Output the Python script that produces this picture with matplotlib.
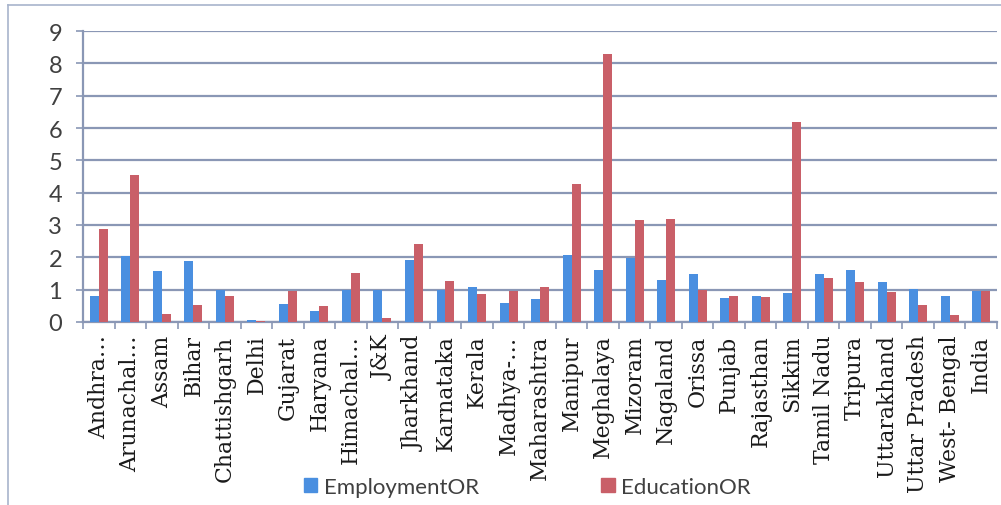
import numpy as np
import matplotlib
matplotlib.use('Agg')
from matplotlib import pyplot as plt
from matplotlib.lines import Line2D
from matplotlib.patches import Patch

states = ['Andhra\u2026', 'Arunachal\u2026', 'Assam', 'Bihar', 'Chattishgarh', 'Delhi',
          'Gujarat', 'Haryana', 'Himachal\u2026', 'J&K', 'Jharkhand', 'Karnataka',
          'Kerala', 'Madhya-\u2026', 'Maharashtra', 'Manipur', 'Meghalaya', 'Mizoram',
          'Nagaland', 'Orissa', 'Punjab', 'Rajasthan', 'Sikkim', 'Tamil Nadu',
          'Tripura', 'Uttarakhand', 'Uttar Pradesh', 'West- Bengal', 'India']
employment_or = [0.81, 2.03, 1.59, 1.89, 0.99, 0.07, 0.57, 0.34, 1.00, 0.98,
                 1.93, 1.00, 1.09, 0.58, 0.71, 2.08, 1.60, 1.97, 1.31, 1.48,
                 0.73, 0.80, 0.89, 1.47, 1.62, 1.23, 1.02, 0.81, 0.96]
education_or = [2.88, 4.55, 0.26, 0.53, 0.80, 0.04, 0.97, 0.50, 1.52, 0.12,
                2.42, 1.28, 0.86, 0.96, 1.09, 4.26, 8.29, 3.14, 3.18, 0.98,
                0.80, 0.77, 6.18, 1.36, 1.23, 0.94, 0.53, 0.23, 0.96]
yticks = list(range(10))

blue = '#4a8fe0'
red = '#c95f68'
grid_col = '#8a97b5'
text_col = '#404040'

fig = plt.figure(figsize=(10.01, 5.06), dpi=100)
ax = fig.add_axes([0.083, 0.3617, 0.913, 0.575])

x = np.arange(len(states))
w = 0.285
ax.bar(x - w / 2, employment_or, w, color=blue, zorder=3)
ax.bar(x + w / 2, education_or, w, color=red, zorder=3)

ax.set_xlim(-0.5, len(states) - 0.5)
ax.set_ylim(0, 9)
ax.set_yticks(yticks)
ax.set_yticklabels([str(v) for v in yticks], fontname='Lato', fontsize=17, color=text_col)
ax.yaxis.grid(True, color=grid_col, linewidth=1.6, zorder=0)
ax.tick_params(axis='y', length=5, width=1.2, color=grid_col, pad=10)

ax.set_xticks(x)
ax.set_xticklabels(states, rotation=90, family=['DejaVu Serif'], fontsize=15.8,
                   color='#1a1a1a', va='top', ha='center')
ax.set_xticks(np.arange(len(states) + 1) - 0.5, minor=True)
ax.tick_params(axis='x', which='major', length=0, pad=9)
ax.tick_params(axis='x', which='minor', length=5, width=1.2, color=grid_col)

for side in ['top', 'right']:
    ax.spines[side].set_visible(False)
for side in ['left', 'bottom']:
    ax.spines[side].set_color(grid_col)
    ax.spines[side].set_linewidth(1.6)

# outer chart border
fig.add_artist(Line2D([8 / 1001, 8 / 1001], [0, 1 - 6 / 506], transform=fig.transFigure,
                      color='#a8b4cc', linewidth=1.2))
fig.add_artist(Line2D([8 / 1001, 1], [1 - 6 / 506, 1 - 6 / 506], transform=fig.transFigure,
                      color='#a8b4cc', linewidth=1.2))

handles = [Patch(color=blue), Patch(color=red)]
fig.legend(handles, ['EmploymentOR', 'EducationOR'], loc='center',
           bbox_to_anchor=(0.527, 0.036), ncol=2, frameon=False,
           prop={'family': 'Lato', 'size': 16}, handlelength=0.6, handleheight=0.6,
           handletextpad=0.3, columnspacing=5.5, labelcolor=text_col)

fig.savefig('out.png', dpi=100)
